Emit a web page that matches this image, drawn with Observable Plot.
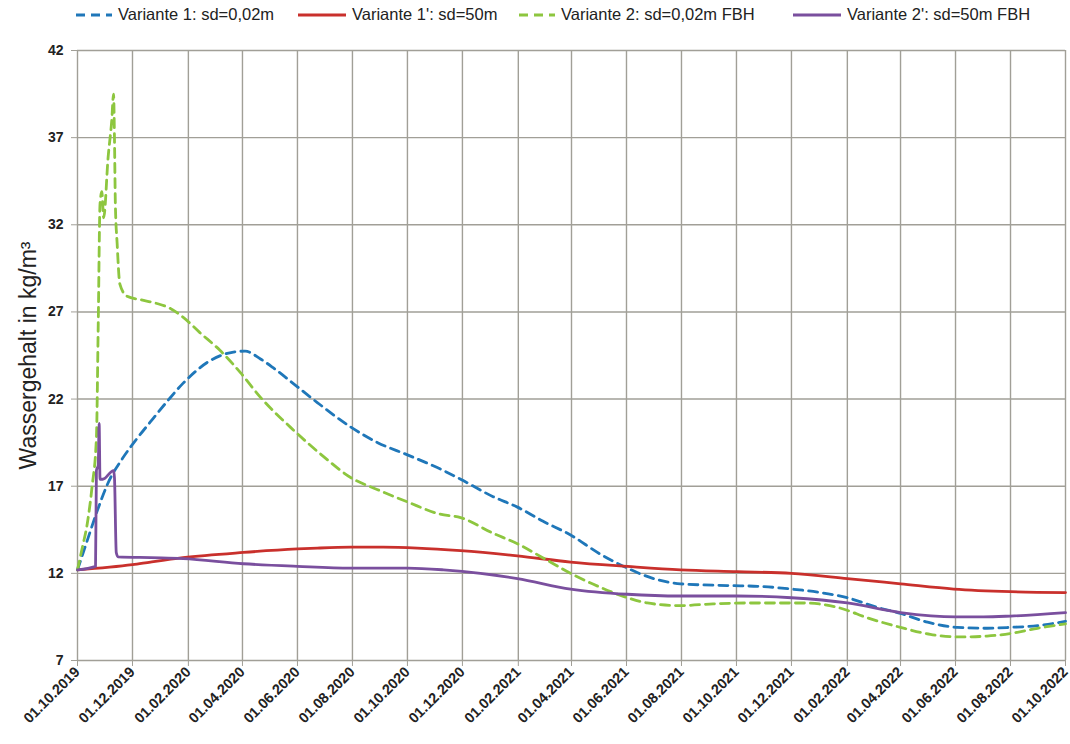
<!DOCTYPE html>
<html>
<head>
<meta charset="utf-8">
<script src="https://cdn.jsdelivr.net/npm/d3@7"></script>
<script src="https://cdn.jsdelivr.net/npm/@observablehq/plot@0.6"></script>
<style>
  html, body { margin: 0; padding: 0; background: #fff; }
  #wrap { position: relative; width: 1070px; height: 744px; }
  #legend { position: relative; height: 32px; width: 1070px; font-family: "Liberation Sans", Arial, sans-serif; font-size: 16.5px; color: #222; }
  .item { position: absolute; top: 5px; display: flex; align-items: center; white-space: nowrap; }
  .item svg { margin-right: 6px; }
  #chart svg { font-family: "Liberation Sans", Arial, sans-serif; }
  g[aria-label="y-axis tick label"] text { font-weight: bold; font-size: 14px; fill: #222; }
  g[aria-label="x-axis tick label"] text { font-weight: bold; font-size: 14.5px; fill: #222; }
  g[aria-label="y-axis label"] text { font-family: "Liberation Sans", Arial, sans-serif; font-size: 23px; font-weight: normal; fill: #222; }
</style>
</head>
<body>
<div id="wrap">
  <div id="legend"></div>
  <div id="chart"></div>
</div>
<script>
// ---- Data ----
const seriesNames = ["Variante 1: sd=0,02m", "Variante 1': sd=50m", "Variante 2: sd=0,02m FBH", "Variante 2': sd=50m FBH"];
const seriesColors = ["#1f77b9", "#c9302c", "#8dc63f", "#7a4f9e"];

const xTickLabels = ["2019-10-01","2019-12-01","2020-02-01","2020-04-01","2020-06-01","2020-08-01","2020-10-01","2020-12-01","2021-02-01","2021-04-01","2021-06-01","2021-08-01","2021-10-01","2021-12-01","2022-02-01","2022-04-01","2022-06-01","2022-08-01","2022-10-01"];
const yTicks = [7, 12, 17, 22, 27, 32, 37, 42];

// Variante 1: sd=0,02m (blue, dashed)
const v1Dates = ["2019-10-01","2019-10-10","2019-10-23","2019-11-04","2019-11-20","2019-12-04","2019-12-21","2020-01-09","2020-01-26","2020-02-25","2020-03-22","2020-04-04","2020-04-21","2020-05-05","2020-06-01","2020-06-23","2020-07-30","2020-08-29","2020-10-01","2020-11-06","2020-11-29","2021-01-04","2021-01-31","2021-02-28","2021-03-31","2021-05-03","2021-06-02","2021-07-01","2021-07-31","2021-09-21","2021-10-28","2021-12-01","2022-01-02","2022-02-01","2022-03-06","2022-04-01","2022-05-01","2022-06-03","2022-07-06","2022-08-01","2022-08-31","2022-10-01"];
const v1Values = [12.2,13.6,15.6,17.2,18.6,19.6,20.7,21.9,22.9,24.2,24.7,24.75,24.3,23.8,22.7,21.8,20.4,19.5,18.8,18.0,17.4,16.4,15.8,15.0,14.2,13.1,12.3,11.7,11.4,11.3,11.25,11.1,10.9,10.6,10.05,9.7,9.2,8.9,8.85,8.9,9.0,9.25];

// Variante 1': sd=50m (red, solid)
const v1pDates = ["2019-10-01","2019-12-01","2019-12-21","2020-01-26","2020-04-02","2020-06-01","2020-06-23","2020-07-30","2020-09-04","2020-10-12","2020-11-29","2021-01-31","2021-03-31","2021-06-02","2021-07-31","2021-10-02","2021-12-01","2022-02-01","2022-04-01","2022-05-30","2022-08-01","2022-10-01"];
const v1pValues = [12.2,12.5,12.65,12.9,13.2,13.4,13.45,13.5,13.5,13.45,13.3,13.0,12.65,12.4,12.2,12.1,12.0,11.7,11.4,11.1,10.95,10.9];

// Variante 2: sd=0,02m FBH (green, dashed)
const v2Dates = ["2019-10-01","2019-10-06","2019-10-12","2019-10-17","2019-10-22","2019-10-24","2019-10-26","2019-10-28","2019-10-30","2019-11-04","2019-11-08","2019-11-10","2019-11-11","2019-11-12","2019-11-14","2019-11-17","2019-11-25","2019-12-10","2019-12-27","2020-01-12","2020-01-26","2020-02-14","2020-03-07","2020-03-30","2020-04-21","2020-05-28","2020-06-30","2020-07-30","2020-08-29","2020-10-01","2020-11-06","2020-11-29","2021-01-04","2021-01-31","2021-02-28","2021-03-31","2021-05-03","2021-06-02","2021-06-24","2021-07-31","2021-09-05","2021-10-16","2021-12-01","2021-12-15","2022-01-21","2022-02-26","2022-04-01","2022-05-04","2022-06-06","2022-07-06","2022-08-01","2022-08-31","2022-10-01"];
const v2Values = [12.2,13.4,14.9,16.9,19.8,26.3,33.2,33.9,32.4,35.9,38.0,39.5,37.0,33.2,30.9,28.6,27.9,27.7,27.5,27.2,26.7,25.8,24.8,23.5,22.1,20.2,18.7,17.5,16.8,16.1,15.4,15.2,14.3,13.7,12.9,12.0,11.2,10.6,10.3,10.15,10.25,10.3,10.3,10.3,10.05,9.4,8.9,8.5,8.35,8.4,8.55,8.85,9.1];

// Variante 2': sd=50m FBH (purple, solid)
const v2pDates = ["2019-10-01","2019-10-21","2019-10-22","2019-10-24","2019-10-25","2019-10-26","2019-10-29","2019-11-10","2019-11-11","2019-11-13","2019-11-15","2019-12-21","2020-01-26","2020-04-02","2020-06-01","2020-07-30","2020-10-01","2020-11-10","2020-12-21","2021-01-31","2021-03-31","2021-06-02","2021-07-31","2021-10-02","2021-12-01","2022-02-01","2022-04-01","2022-06-01","2022-07-02","2022-08-01","2022-10-01"];
const v2pValues = [12.2,12.4,17.9,18.2,20.6,17.4,17.4,17.9,17.5,13.2,12.95,12.9,12.85,12.55,12.4,12.3,12.3,12.2,12.0,11.7,11.1,10.8,10.7,10.7,10.6,10.3,9.75,9.5,9.5,9.55,9.75];

// ---- Build tables ----
const toRows = (dates, values) => dates.map((d, i) => ({date: new Date(d), value: values[i]}));
const series = [
  {rows: toRows(v1Dates, v1Values), dash: "9,6"},
  {rows: toRows(v1pDates, v1pValues), dash: null},
  {rows: toRows(v2Dates, v2Values), dash: "9,6"},
  {rows: toRows(v2pDates, v2pValues), dash: null}
];

// ---- Legend ----
const legendX = [76, 298, 519, 793];
const legend = document.getElementById("legend");
seriesNames.forEach((name, i) => {
  const it = document.createElement("div");
  it.className = "item";
  it.style.left = legendX[i] + "px";
  const dash = series[i].dash ? 'stroke-dasharray="9,6"' : "";
  const w = series[i].dash ? 36 : 48;
  it.innerHTML = `<svg width="${w}" height="10"><line x1="0" y1="5" x2="${w}" y2="5" stroke="${seriesColors[i]}" stroke-width="3" ${dash}/></svg><span>${name}</span>`;
  legend.appendChild(it);
});

// ---- Chart ----
const fmt = d3.utcFormat("%d.%m.%Y");
const xTicks = xTickLabels.map(d => new Date(d));

const marks = [
  Plot.gridX(xTicks, {stroke: "#a19f97", strokeOpacity: 1, strokeWidth: 1.4}),
  Plot.gridY(yTicks, {stroke: "#a19f97", strokeOpacity: 1, strokeWidth: 1.4}),
  Plot.axisY({ticks: yTicks, tickSize: 6, tickPadding: 8, stroke: "#a19f97", label: "Wassergehalt in kg/m³", labelAnchor: "center", labelArrow: "none", labelOffset: 58}),
  Plot.axisX({ticks: xTicks, tickSize: 6, tickPadding: 3, tickRotate: -45, tickFormat: fmt, stroke: "#a19f97", label: null})
];
series.forEach((s, i) => {
  marks.push(Plot.line(s.rows, {x: "date", y: "value", stroke: seriesColors[i], strokeWidth: 2.8, strokeDasharray: s.dash ?? undefined, curve: "monotone-x"}));
});

const chart = Plot.plot({
  width: 1070,
  height: 712,
  marginTop: 18,
  marginBottom: 84,
  marginLeft: 77,
  marginRight: 5,
  x: {type: "utc", domain: [new Date("2019-10-01"), new Date("2022-10-01")]},
  y: {domain: [7, 42]},
  marks
});
document.getElementById("chart").appendChild(chart);
</script>
</body>
</html>
